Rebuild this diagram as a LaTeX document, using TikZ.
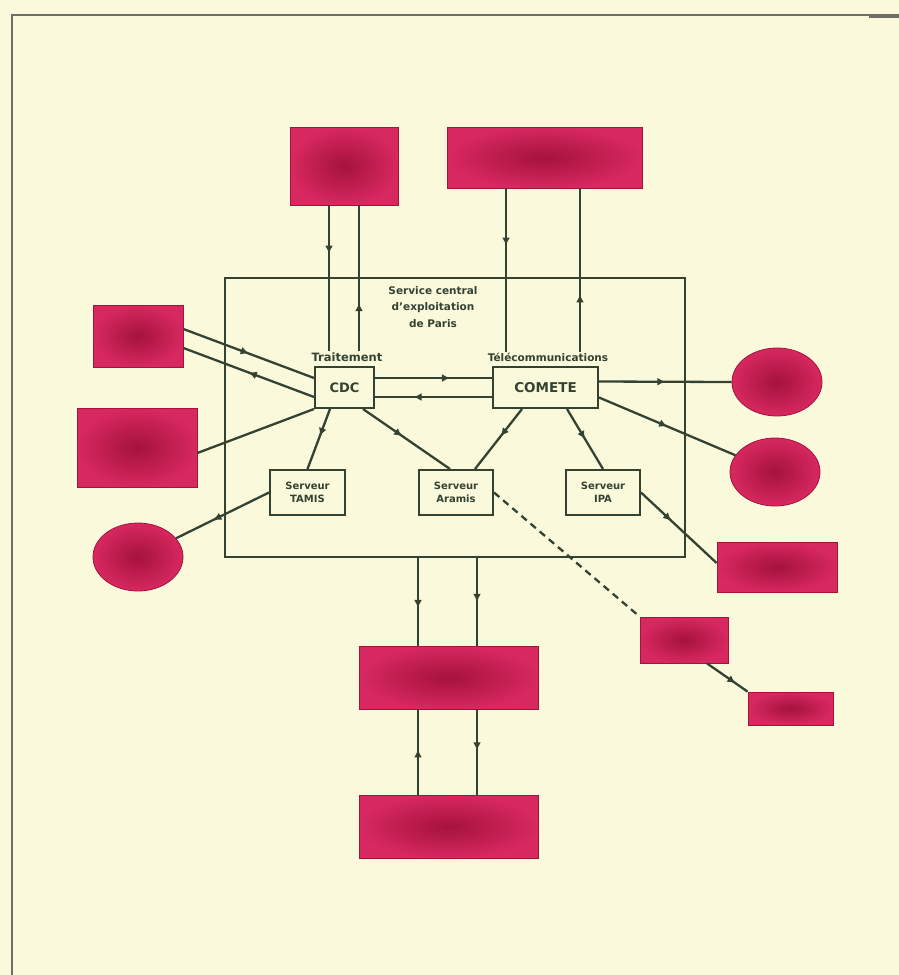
\documentclass[tikz,border=0pt]{standalone}
\usepackage{fontspec}
\setmainfont{DejaVu Sans}
\usetikzlibrary{shapes.geometric,arrows.meta,decorations.markings}
\definecolor{paper}{RGB}{250,249,220}
\definecolor{ink}{RGB}{52,66,50}
\definecolor{frame}{RGB}{110,110,105}
\definecolor{boxred}{RGB}{215,40,95}
\definecolor{boxdark}{RGB}{165,18,62}
\tikzset{
  redbox/.style={rectangle, draw=boxdark, line width=0.8pt, inner sep=0pt,
    inner color=boxdark, outer color=boxred},
  redell/.style={ellipse, draw=boxdark, line width=0.8pt, inner sep=0pt,
    inner color=boxdark, outer color=boxred},
  wbox/.style={rectangle, draw=ink, line width=2pt, fill=paper, inner sep=0pt,
    align=center, text=ink, font=\bfseries\fontsize{10}{12.5}\selectfont},
  lbl/.style={text=ink, inner sep=1pt, align=center},
  link/.style={draw=ink, line width=2.3pt},
  midarr/.style={postaction={decorate, decoration={markings,
    mark=at position #1 with {\arrow{Latex[length=8pt,width=8pt]}}}}},
}
\begin{document}
\begin{tikzpicture}[x=1pt,y=-1pt]
\useasboundingbox[fill=paper] (0,0) rectangle (899,975);
% outer frame
\draw[frame, line width=1.8pt] (12,975) -- (12,15) -- (899,15);
\draw[frame, line width=3pt] (869,16) -- (899,16);

% central service frame
\node[draw=ink, line width=1.8pt, minimum width=460, minimum height=279, inner sep=0pt] (central) at (455,417.5) {};
\node[lbl, font=\bfseries\fontsize{10.5}{16.5}\selectfont] (title) at (433,307) {Service central\\d'exploitation\\de Paris};
\node[lbl, font=\bfseries\fontsize{11.5}{13}\selectfont] (trait) at (347,357) {Traitement};
\node[lbl, font=\bfseries\fontsize{10.5}{13}\selectfont] (tele) at (548,357) {Télécommunications};

% white boxes
\node[wbox, minimum width=59, minimum height=41, font=\bfseries\fontsize{13}{15}\selectfont] (cdc) at (344.5,387.5) {CDC};
\node[wbox, minimum width=105, minimum height=41, font=\bfseries\fontsize{13.5}{15}\selectfont] (com) at (545.5,387.5) {COMETE};
\node[wbox, minimum width=75, minimum height=45] (tamis) at (307.5,492.5) {Serveur\\TAMIS};
\node[wbox, minimum width=74, minimum height=45] (aramis) at (456,492.5) {Serveur\\Aramis};
\node[wbox, minimum width=74, minimum height=45] (ipa) at (603,492.5) {Serveur\\IPA};

% red shapes
\node[redbox, minimum width=108, minimum height=78] (tl) at (344,166) {};
\node[redbox, minimum width=195, minimum height=61] (tr) at (544.5,157.5) {};
\node[redbox, minimum width=90, minimum height=62] (l1) at (138,336) {};
\node[redbox, minimum width=120, minimum height=79] (l2) at (137,447.5) {};
\node[redell, minimum width=90, minimum height=68] (l3) at (138,557) {};
\node[redell, minimum width=90, minimum height=68] (r1) at (777,382) {};
\node[redell, minimum width=90, minimum height=68] (r2) at (775,472) {};
\node[redbox, minimum width=120, minimum height=50] (r3) at (777,567) {};
\node[redbox, minimum width=88, minimum height=46] (r4) at (684,640) {};
\node[redbox, minimum width=85, minimum height=33] (r5) at (790.5,708.5) {};
\node[redbox, minimum width=179, minimum height=63] (b1) at (448.5,677.5) {};
\node[redbox, minimum width=179, minimum height=63] (b2) at (448.5,826.5) {};

% top connectors
\path[link, midarr=0.33] ([xshift=-15pt]tl.south) -- ([xshift=-15pt]tl.south |- trait.north);
\path[link, midarr=0.33] ([xshift=15pt]tl.south |- trait.north) -- ([xshift=15pt]tl.south);
\path[link, midarr=0.35] ([xshift=-38.5pt]tr.south) -- ([xshift=-38.5pt]tr.south |- tele.north);
\path[link, midarr=0.35] ([xshift=35.5pt]tr.south |- tele.north) -- ([xshift=35.5pt]tr.south);

% left connectors
\path[link, midarr=0.5] ([yshift=7pt]l1.east) -- ([yshift=9.5pt]cdc.west);
\path[link, midarr=0.5] ([yshift=-9.5pt]cdc.west) -- ([yshift=-12pt]l1.east);
\path[link] ([yshift=-5.5pt]l2.east) -- (cdc.south west);
\path[link, midarr=0.6] (tamis.west) -- (l3);

% internal connectors
\path[link, midarr=0.64] ([yshift=9.5pt]cdc.east) -- ([yshift=9.5pt]com.west);
\path[link, midarr=0.67] ([yshift=-9.5pt]com.west) -- ([yshift=-9.5pt]cdc.east);
\path[link, midarr=0.45] ([xshift=-14.5pt]cdc.south) -- (tamis.north);
\path[link, midarr=0.45] ([xshift=18.5pt]cdc.south) -- ([xshift=-6pt]aramis.north);
\path[link, midarr=0.45] ([xshift=-23.5pt]com.south) -- ([xshift=19pt]aramis.north);
\path[link, midarr=0.5] ([xshift=21.5pt]com.south) -- (ipa.north);

% right connectors
\path[link, midarr=0.5] ([yshift=6pt]com.east) -- (r1.west);
\path[link, midarr=0.5] ([yshift=-10pt]com.east) -- (r2);
\path[link, midarr=0.4] (ipa.east) -- ([yshift=4pt]r3.west);
\path[link, dashed, dash pattern=on 7pt off 5pt] (aramis.east) -- (r4.north west);
\path[link, midarr=0.7] ([xshift=23pt]r4.south) -- (r5.north west);

% bottom connectors
\path[link, midarr=0.57] ([xshift=-30.5pt]b1.north |- central.south) -- ([xshift=-30.5pt]b1.north);
\path[link, midarr=0.5] ([xshift=28.5pt]b1.north |- central.south) -- ([xshift=28.5pt]b1.north);
\path[link, midarr=0.53] ([xshift=-30.5pt]b2.north) -- ([xshift=-30.5pt]b1.south);
\path[link, midarr=0.48] ([xshift=28.5pt]b1.south) -- ([xshift=28.5pt]b2.north);
\end{tikzpicture}
\end{document}
